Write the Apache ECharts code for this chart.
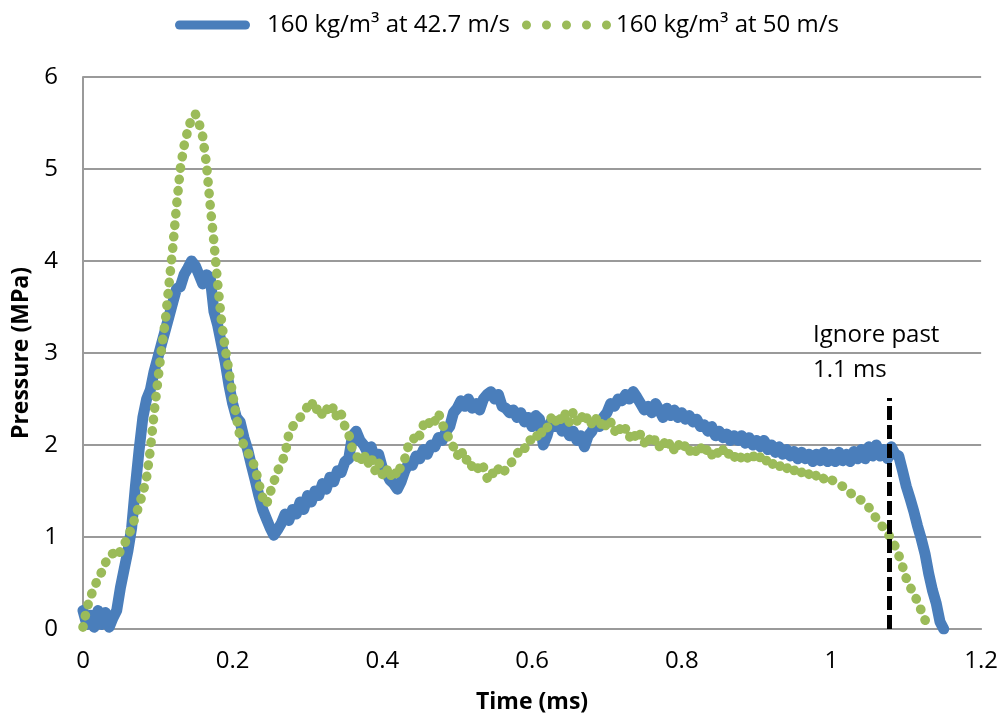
<!DOCTYPE html>
<html><head><meta charset="utf-8">
<script src="https://cdn.jsdelivr.net/npm/echarts@6/dist/echarts.min.js"></script>
<style>html,body{margin:0;padding:0;background:#fff}#c{width:1001px;height:719px}</style>
</head><body><div id="c"></div>
<script>
// ---------- data ----------
const seriesNames = ['160 kg/m³ at 42.7 m/s', '160 kg/m³ at 50 m/s'];
const xAxisTitle = 'Time (ms)';
const yAxisTitle = 'Pressure (MPa)';
const noteLines = ['Ignore past', '1.1 ms'];
const cutoffTime = 1.077;      // ms, dashed marker
const cutoffTop = 2.51;        // MPa, top of dashed marker
const timeStep = 0.005;        // ms between samples, both series start at 0

// 160 kg/m3 at 42.7 m/s (blue), one row = 0.1 ms
const bluePressure = [
  0.2, 0.05, 0.15, 0.02, 0.2, 0.05, 0.18, 0.02, 0.12, 0.2, 0.45, 0.65, 0.85, 1.1, 1.55, 1.95, 2.3, 2.5, 2.6, 2.8,
  2.95, 3.1, 3.25, 3.4, 3.55, 3.7, 3.72, 3.85, 3.92, 4.0, 3.95, 3.85, 3.75, 3.85, 3.82, 3.45, 3.3, 3.1, 2.9, 2.65,
  2.45, 2.3, 2.25, 2.08, 1.95, 1.78, 1.62, 1.45, 1.3, 1.2, 1.1, 1.02, 1.08, 1.15, 1.25, 1.18, 1.3, 1.25, 1.38, 1.3,
  1.45, 1.38, 1.5, 1.45, 1.58, 1.52, 1.65, 1.6, 1.72, 1.7, 1.82, 1.85, 2.1, 2.15, 2.05, 2.0, 1.92, 1.98, 1.85, 1.9,
  1.75, 1.7, 1.62, 1.58, 1.52, 1.6, 1.72, 1.8, 1.78, 1.88, 1.85, 1.95, 1.9, 2.0, 1.98, 2.08, 2.05, 2.15, 2.2, 2.35,
  2.4, 2.48, 2.42, 2.5, 2.4, 2.45, 2.38, 2.5, 2.55, 2.58, 2.5, 2.55, 2.42, 2.4, 2.35, 2.38, 2.3, 2.35, 2.25, 2.3,
  2.2, 2.32, 2.28, 2.0, 2.1, 2.25, 2.2, 2.25, 2.15, 2.2, 2.1, 2.15, 2.05, 2.1, 1.98, 2.1, 2.15, 2.25, 2.2, 2.3,
  2.35, 2.45, 2.42, 2.5, 2.48, 2.55, 2.5, 2.58, 2.52, 2.45, 2.38, 2.42, 2.35, 2.45, 2.38, 2.3, 2.4, 2.32, 2.38, 2.3,
  2.35, 2.28, 2.32, 2.25, 2.28, 2.2, 2.22, 2.15, 2.2, 2.1, 2.15, 2.08, 2.12, 2.05, 2.1, 2.05, 2.1, 2.02, 2.08, 2.0,
  2.05, 1.98, 2.05, 1.95, 2.0, 1.92, 1.98, 1.9, 1.95, 1.88, 1.93, 1.85, 1.92, 1.85, 1.9, 1.82, 1.9, 1.83, 1.92, 1.82,
  1.9, 1.82, 1.92, 1.83, 1.9, 1.82, 1.93, 1.85, 1.95, 1.85, 1.98, 1.88, 2.0, 1.88, 1.95, 1.85, 1.98, 1.9, 1.88, 1.72,
  1.55, 1.42, 1.28, 1.12, 0.98, 0.82, 0.6, 0.42, 0.28, 0.08, 0
];

// 160 kg/m3 at 50 m/s (green), one row = 0.1 ms
const greenPressure = [
  0.02, 0.22, 0.35, 0.45, 0.55, 0.62, 0.72, 0.8, 0.82, 0.78, 0.85, 0.92, 1.0, 1.1, 1.22, 1.35, 1.48, 1.65, 1.95, 2.35,
  2.7, 3.05, 3.35, 3.75, 4.15, 4.6, 5.0, 5.25, 5.42, 5.55, 5.6, 5.5, 5.35, 5.05, 4.6, 4.2, 3.75, 3.35, 3.05, 2.8,
  2.55, 2.3, 2.08, 2.0, 1.92, 1.85, 1.75, 1.58, 1.43, 1.35, 1.48, 1.6, 1.72, 1.8, 1.9, 2.12, 2.2, 2.25, 2.3, 2.35,
  2.42, 2.48, 2.36, 2.42, 2.32, 2.4, 2.34, 2.42, 2.28, 2.34, 2.2, 2.12, 1.95, 1.9, 1.8, 1.92, 1.78, 1.88, 1.72, 1.82,
  1.68, 1.76, 1.64, 1.74, 1.66, 1.78, 1.85, 2.0, 2.02, 2.14, 2.1, 2.22, 2.18, 2.3, 2.26, 2.35, 2.22, 2.16, 2.04, 1.98,
  1.88, 1.96, 1.82, 1.86, 1.76, 1.8, 1.7, 1.76, 1.64, 1.72, 1.66, 1.74, 1.68, 1.74, 1.76, 1.86, 1.9, 1.98, 1.96, 2.06,
  2.05, 2.12, 2.06, 2.2, 2.18, 2.3, 2.22, 2.33, 2.25, 2.35, 2.24, 2.36, 2.26, 2.34, 2.24, 2.32, 2.22, 2.3, 2.2, 2.28,
  2.18, 2.25, 2.14, 2.22, 2.12, 2.18, 2.08, 2.15, 2.05, 2.12, 2.02, 2.1, 2.0, 2.07, 1.98, 2.06, 1.96, 2.04, 1.94, 2.02,
  1.94, 2.0, 1.92, 1.99, 1.91, 1.98, 1.9, 1.97, 1.89, 1.96, 1.88, 1.95, 1.87, 1.93, 1.86, 1.92, 1.85, 1.9, 1.83, 1.89,
  1.82, 1.87, 1.8, 1.85, 1.78, 1.82, 1.76, 1.8, 1.74, 1.78, 1.72, 1.76, 1.7, 1.74, 1.68, 1.72, 1.66, 1.69, 1.63, 1.66,
  1.62, 1.6, 1.57, 1.55, 1.52, 1.48, 1.45, 1.42, 1.4, 1.36, 1.32, 1.26, 1.2, 1.14, 1.1, 1.04, 0.98, 0.9, 0.8, 0.68,
  0.55, 0.46, 0.38, 0.3, 0.2, 0.1, 0.02
];

// ---------- chart ----------
const FONT = 'Open Sans';
const BLUE = '#4A7EBB', GREEN = '#9BBB59', GRID = '#9A9A9A';
function toPairs(arr) { return arr.map((p, i) => [Math.round(i * timeStep * 1000) / 1000, p]); }

const dotsIcon = 'path://M0,4.5a4.5,4.5 0 1,0 9,0a4.5,4.5 0 1,0 -9,0Z M20,4.5a4.5,4.5 0 1,0 9,0a4.5,4.5 0 1,0 -9,0Z M40,4.5a4.5,4.5 0 1,0 9,0a4.5,4.5 0 1,0 -9,0Z M60,4.5a4.5,4.5 0 1,0 9,0a4.5,4.5 0 1,0 -9,0Z M80,4.5a4.5,4.5 0 1,0 9,0a4.5,4.5 0 1,0 -9,0Z';
const barIcon = 'path://M4.5,0L70.5,0A4.5,4.5 0 0,1 70.5,9L4.5,9A4.5,4.5 0 0,1 4.5,0Z';

const chart = echarts.init(document.getElementById('c'), null, { renderer: 'canvas' });
const legendText = { fontSize: 24, fontFamily: FONT, color: '#000' };
chart.setOption({
  animation: false,
  backgroundColor: '#fff',
  grid: { left: 83, right: 13, top: 77, bottom: 90, containLabel: false },
  legend: [
    { data: [{ name: seriesNames[0], icon: barIcon }], left: 170, top: 8, itemWidth: 75, itemHeight: 9,
      itemStyle: { borderWidth: 0 }, textStyle: Object.assign({ padding: [0, 0, 0, 12] }, legendText), selectedMode: false },
    { data: [{ name: seriesNames[1], icon: dotsIcon }], left: 517, top: 8, itemWidth: 89, itemHeight: 9,
      itemStyle: { borderWidth: 0 }, textStyle: legendText, selectedMode: false }
  ],
  xAxis: {
    type: 'value', min: 0, max: 1.2, interval: 0.2,
    name: xAxisTitle, nameLocation: 'middle', nameGap: 62,
    nameTextStyle: { fontSize: 23, fontWeight: 'bold', fontFamily: FONT, color: '#000' },
    axisLine: { show: true, lineStyle: { color: GRID, width: 2 } },
    axisTick: { show: false },
    axisLabel: { fontSize: 24, fontFamily: FONT, color: '#000', margin: 20 },
    splitLine: { show: false }
  },
  yAxis: {
    type: 'value', min: 0, max: 6, interval: 1,
    name: yAxisTitle, nameLocation: 'middle', nameGap: 43,
    nameTextStyle: { fontSize: 23, fontWeight: 'bold', fontFamily: FONT, color: '#000' },
    axisLine: { show: true, lineStyle: { color: GRID, width: 2 } },
    axisTick: { show: false },
    axisLabel: { fontSize: 24, fontFamily: FONT, color: '#000', margin: 25 },
    splitLine: { show: true, lineStyle: { color: GRID, width: 2 } }
  },
  series: [
    { type: 'line', name: seriesNames[0], data: toPairs(bluePressure), symbol: 'none', showSymbol: false,
      itemStyle: { color: BLUE }, lineStyle: { color: BLUE, width: 11, cap: 'round', join: 'round' }, z: 2 },
    { type: 'line', name: seriesNames[1], data: toPairs(greenPressure), symbol: 'none', showSymbol: false,
      itemStyle: { color: GREEN }, lineStyle: { color: GREEN, width: 9.5, type: [0.5, 11], cap: 'round', join: 'round' }, z: 3,
      markLine: {
        silent: true, symbol: ['none', 'none'], label: { show: false }, animation: false,
        lineStyle: { color: '#000', width: 5, type: [14, 5], cap: 'butt' },
        data: [[{ coord: [cutoffTime, 0] }, { coord: [cutoffTime, cutoffTop] }]]
      } }
  ],
  graphic: [
    { type: 'text', left: 813, top: 318, z: 10,
      style: { text: noteLines.join('\n'), fontSize: 24, fontFamily: FONT, fill: '#000', lineHeight: 35 } }
  ]
});
</script>
</body></html>
